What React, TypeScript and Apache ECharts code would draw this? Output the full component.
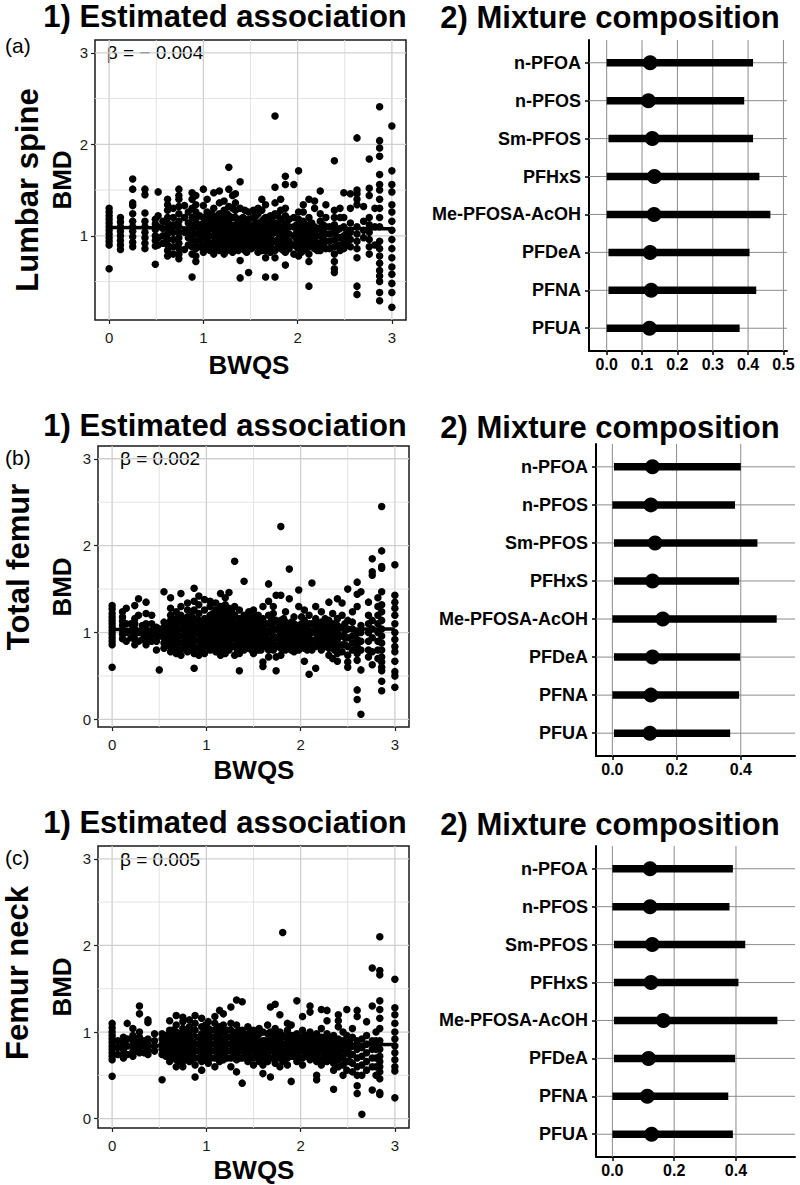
import React, { useEffect, useRef } from "react";
import * as echarts from "echarts";

const FONT = "'Liberation Sans', Arial, Helvetica, sans-serif";

// ---------- scatter data: [BWQS value, BMD values in that column] ----------
const colsA: [number, number[]][] = [
  [0.0, [0.64, 0.9, 0.94, 0.98, 1.02, 1.06, 1.1, 1.14, 1.18, 1.22, 1.26, 1.3]],
  [0.12, [0.85, 0.9, 0.95, 1.0, 1.05, 1.1, 1.15, 1.2]],
  [0.25, [0.88, 0.93, 0.99, 1.05, 1.1, 1.16, 1.24, 1.33, 1.36, 1.51, 1.62]],
  [0.38, [0.86, 0.92, 0.98, 1.04, 1.1, 1.16, 1.25, 1.45, 1.51]],
  [0.49, [0.69, 0.89, 0.95, 1.0, 1.07, 1.13, 1.18]],
  [0.52, [0.9, 0.98, 1.1, 1.22, 1.48]],
  [0.62, [0.78, 0.84, 0.9, 0.96, 1.02, 1.08, 1.14, 1.2, 1.28, 1.34, 1.4]],
  [0.74, [0.75, 0.8, 0.86, 0.92, 0.98, 1.04, 1.1, 1.16, 1.24, 1.32, 1.4, 1.44, 1.51]],
  [0.8, [0.85, 1.04, 1.2, 1.33]],
  [0.88, [0.55, 0.8, 0.88, 0.96, 1.04, 1.12, 1.2, 1.3, 1.4, 1.47]],
  [0.92, [0.72, 0.78, 0.86, 0.94, 1.02, 1.1, 1.18, 1.26, 1.34, 1.44]],
  [1.0, [0.82, 0.9, 0.98, 1.06, 1.14, 1.2, 1.33, 1.51]],
  [1.04, [0.86, 0.94, 1.02, 1.1, 1.18, 1.26, 1.4]],
  [1.11, [0.8, 0.86, 0.93, 1.0, 1.07, 1.14, 1.22, 1.3, 1.47]],
  [1.17, [0.84, 0.92, 1.0, 1.08, 1.16, 1.24, 1.36, 1.49]],
  [1.22, [0.8, 0.88, 0.96, 1.04, 1.12, 1.2, 1.28, 1.38]],
  [1.27, [0.9, 0.98, 1.06, 1.14, 1.22, 1.32, 1.51, 1.75]],
  [1.31, [0.82, 0.9, 1.0, 1.1, 1.2, 1.3, 1.44]],
  [1.34, [0.88, 0.96, 1.04, 1.12, 1.2, 1.28, 1.36, 1.46]],
  [1.39, [0.54, 0.73, 0.86, 0.94, 1.02, 1.1, 1.18, 1.3, 1.59]],
  [1.44, [0.84, 0.92, 1.0, 1.08, 1.16, 1.28]],
  [1.48, [0.6, 0.86, 0.94, 1.02, 1.1, 1.18, 1.26]],
  [1.53, [0.88, 0.96, 1.04, 1.12, 1.2, 1.28]],
  [1.58, [0.82, 0.9, 0.98, 1.06, 1.14, 1.24, 1.3]],
  [1.62, [0.84, 0.92, 1.0, 1.08, 1.16, 1.28, 1.4]],
  [1.66, [0.55, 0.76, 0.84, 0.92, 1.0, 1.08, 1.2, 1.34]],
  [1.71, [0.82, 0.9, 0.98, 1.06, 1.14, 1.22]],
  [1.76, [0.55, 0.76, 0.84, 0.94, 1.04, 1.14, 1.24, 1.36, 1.53, 2.31]],
  [1.82, [0.86, 0.94, 1.02, 1.1, 1.18, 1.28, 1.4]],
  [1.87, [0.68, 0.82, 0.9, 0.98, 1.06, 1.14, 1.22, 1.3, 1.56, 1.65]],
  [1.96, [0.8, 0.9, 1.0, 1.1, 1.2, 1.56]],
  [2.01, [0.78, 0.86, 0.94, 1.02, 1.1, 1.18, 1.26, 1.71]],
  [2.06, [0.84, 0.92, 1.0, 1.08, 1.16, 1.26, 1.34]],
  [2.12, [0.45, 0.72, 0.8, 0.88, 0.96, 1.04, 1.12, 1.2, 1.4]],
  [2.18, [0.86, 0.94, 1.02, 1.1, 1.3, 1.38]],
  [2.24, [0.84, 0.92, 1.0, 1.08, 1.16, 1.24, 1.49]],
  [2.3, [0.86, 0.94, 1.02, 1.1, 1.2, 1.34]],
  [2.39, [0.6, 0.64, 0.72, 0.8, 0.88, 0.96, 1.04, 1.12, 1.2, 1.28, 1.82]],
  [2.45, [0.84, 0.9, 0.98, 1.08, 1.2, 1.3]],
  [2.49, [0.86, 0.92, 1.0, 1.1, 1.2, 1.47]],
  [2.56, [0.88, 0.96, 1.04, 1.14, 1.3, 1.46]],
  [2.63, [0.36, 0.45, 0.76, 0.86, 0.94, 1.02, 1.1, 1.34, 1.4, 1.46, 1.5, 2.07]],
  [2.7, [0.98, 1.06, 1.16, 1.32]],
  [2.76, [0.8, 0.88, 0.96, 1.04, 1.12, 1.2, 1.44, 1.52, 1.84]],
  [2.82, [0.9, 1.1, 1.3]],
  [2.87, [0.29, 0.38, 0.5, 0.56, 0.62, 0.7, 0.78, 0.86, 0.94, 1.1, 1.2, 1.3, 1.4, 1.5, 1.56, 1.67, 1.87, 1.96, 2.04, 2.41]],
  [3.0, [0.22, 0.38, 0.48, 0.58, 0.66, 0.76, 0.86, 0.96, 1.06, 1.16, 1.26, 1.34, 1.48, 1.56, 1.71, 2.2]],
];
// additional points in the dense central band
const denseA: [number, number[]][] = [
  [0.57, [0.92, 1.0, 1.08, 1.16]],
  [0.68, [0.8, 0.88, 0.96, 1.04, 1.12, 1.2, 1.3]],
  [0.84, [0.9, 0.98, 1.06, 1.14, 1.26]],
  [0.96, [0.88, 0.96, 1.04, 1.12, 1.22]],
  [1.07, [0.84, 0.92, 1.0, 1.08, 1.16, 1.24]],
  [1.14, [0.9, 0.98, 1.06, 1.12, 1.2]],
  [1.19, [0.86, 0.94, 1.02, 1.1, 1.18]],
  [1.25, [0.84, 0.92, 1.0, 1.08, 1.16, 1.24]],
  [1.29, [0.88, 0.96, 1.04, 1.12]],
  [1.37, [0.84, 0.92, 1.0, 1.08, 1.16]],
  [1.42, [0.88, 0.96, 1.04, 1.12, 1.2]],
  [1.46, [0.82, 0.9, 0.98, 1.06, 1.14]],
  [1.51, [0.86, 0.94, 1.02, 1.1]],
  [1.56, [0.9, 0.98, 1.06, 1.14, 1.22]],
  [1.6, [0.88, 0.96, 1.04, 1.12]],
  [1.64, [0.86, 0.94, 1.02, 1.1, 1.18]],
  [1.69, [0.9, 0.98, 1.06, 1.14]],
  [1.73, [0.86, 0.94, 1.02, 1.1, 1.2]],
  [1.79, [0.88, 0.96, 1.04, 1.12, 1.22]],
  [1.85, [0.84, 0.92, 1.0, 1.08]],
  [1.91, [0.86, 0.94, 1.02, 1.1, 1.18]],
  [1.99, [0.88, 0.96, 1.04, 1.12]],
  [2.04, [0.82, 0.9, 0.98, 1.06, 1.14]],
  [2.09, [0.86, 0.94, 1.02, 1.1]],
  [2.15, [0.9, 0.98, 1.06, 1.14]],
  [2.21, [0.84, 0.92, 1.0, 1.08]],
  [2.27, [0.88, 0.96, 1.04, 1.12]],
  [2.34, [0.86, 0.94, 1.02, 1.1]],
  [2.42, [0.9, 0.98, 1.06]],
  [2.52, [0.9, 0.98, 1.06]],
];

const colsB: [number, number[]][] = [
  [0.0, [0.6, 0.86, 0.9, 0.94, 0.98, 1.02, 1.06, 1.1, 1.14, 1.18, 1.22, 1.27, 1.31]],
  [0.11, [0.93, 0.98, 1.03, 1.08, 1.13, 1.18, 1.24]],
  [0.15, [0.9, 1.0, 1.1, 1.28]],
  [0.24, [0.86, 0.92, 0.98, 1.04, 1.1, 1.16, 1.31]],
  [0.28, [0.9, 1.0, 1.2, 1.39]],
  [0.36, [0.86, 0.92, 0.98, 1.04, 1.1, 1.22, 1.35]],
  [0.42, [0.9, 0.96, 1.02, 1.1, 1.2]],
  [0.47, [0.8, 0.9, 0.98, 1.06]],
  [0.5, [0.57, 0.96, 1.04]],
  [0.55, [0.82, 0.88, 0.94, 1.0, 1.06, 1.12, 1.47]],
  [0.62, [0.78, 0.84, 0.9, 0.96, 1.02, 1.08, 1.14, 1.2, 1.28, 1.4]],
  [0.68, [0.76, 0.84, 0.92, 1.0, 1.08, 1.16, 1.24]],
  [0.73, [0.74, 0.8, 0.88, 0.96, 1.04, 1.12, 1.2, 1.3, 1.45]],
  [0.8, [0.78, 0.86, 0.94, 1.02, 1.1, 1.18, 1.26, 1.34]],
  [0.87, [0.59, 0.76, 0.84, 0.92, 1.0, 1.08, 1.16, 1.26, 1.36, 1.51]],
  [0.92, [0.74, 0.82, 0.9, 0.98, 1.06, 1.14, 1.22, 1.32, 1.42]],
  [0.98, [0.76, 0.84, 0.92, 1.0, 1.08, 1.16, 1.26, 1.38]],
  [1.04, [0.8, 0.88, 0.96, 1.04, 1.12, 1.2, 1.3, 1.36]],
  [1.1, [0.78, 0.86, 0.94, 1.02, 1.1, 1.18, 1.26, 1.34]],
  [1.15, [0.74, 0.82, 0.9, 0.98, 1.06, 1.14, 1.22, 1.3, 1.45]],
  [1.2, [0.76, 0.84, 0.92, 1.0, 1.08, 1.16, 1.24, 1.32, 1.4]],
  [1.24, [0.8, 0.88, 0.96, 1.04, 1.12, 1.2, 1.28, 1.46]],
  [1.3, [0.74, 0.84, 0.94, 1.02, 1.1, 1.2, 1.3, 1.82]],
  [1.35, [0.56, 0.76, 0.86, 0.96, 1.06, 1.16, 1.26]],
  [1.4, [0.8, 0.9, 1.0, 1.1, 1.2, 1.59]],
  [1.45, [0.82, 0.9, 0.98, 1.06, 1.14, 1.24]],
  [1.5, [0.76, 0.84, 0.92, 1.0, 1.08, 1.18, 1.26]],
  [1.55, [0.8, 0.88, 0.96, 1.04, 1.12, 1.2]],
  [1.6, [0.61, 0.66, 0.84, 0.92, 1.0, 1.08, 1.16, 1.3]],
  [1.66, [0.72, 0.8, 0.9, 1.0, 1.1, 1.2, 1.36, 1.56]],
  [1.71, [0.8, 0.88, 0.96, 1.04, 1.12, 1.22, 1.3]],
  [1.74, [0.56, 0.72, 0.84, 0.94, 1.04, 1.14, 1.43]],
  [1.79, [0.74, 0.82, 0.9, 0.98, 1.06, 1.14, 1.43, 2.22]],
  [1.84, [0.8, 0.88, 0.96, 1.04, 1.12, 1.24]],
  [1.88, [0.84, 0.92, 1.0, 1.08, 1.39, 1.73]],
  [1.93, [0.78, 0.86, 0.94, 1.02, 1.1, 1.18]],
  [1.98, [0.8, 0.88, 0.96, 1.04, 1.3, 1.49]],
  [2.04, [0.67, 0.82, 0.9, 0.98, 1.06, 1.14, 1.26]],
  [2.09, [0.52, 0.86, 0.94, 1.02, 1.1, 1.2]],
  [2.12, [0.8, 0.9, 1.0, 1.1, 1.57]],
  [2.16, [0.59, 0.84, 0.92, 1.0, 1.08, 1.16, 1.3]],
  [2.22, [0.8, 0.88, 0.96, 1.04, 1.12, 1.24]],
  [2.3, [0.74, 0.82, 0.9, 0.98, 1.06, 1.14, 1.35]],
  [2.34, [0.7, 0.86, 0.94, 1.02, 1.1, 1.22]],
  [2.39, [0.67, 0.76, 0.84, 0.92, 1.0, 1.08, 1.16, 1.39]],
  [2.44, [0.78, 0.86, 0.96, 1.06, 1.2, 1.34]],
  [2.5, [0.6, 0.66, 0.74, 0.84, 0.94, 1.04, 1.14, 1.5]],
  [2.55, [0.8, 0.88, 0.96, 1.04, 1.12, 1.24]],
  [2.6, [0.23, 0.34, 0.68, 0.76, 0.84, 0.92, 1.0, 1.3, 1.44, 1.58]],
  [2.64, [0.06, 0.57, 0.8, 0.9, 1.0, 1.08, 1.47]],
  [2.72, [0.72, 0.8, 0.9, 1.0, 1.1, 1.2, 1.35]],
  [2.76, [0.63, 0.78, 0.94, 1.04, 1.14, 1.66, 1.7, 1.85]],
  [2.82, [0.7, 0.8, 0.9, 1.0, 1.1, 1.2, 1.3, 1.4]],
  [2.86, [0.33, 0.44, 0.56, 0.6, 0.66, 0.72, 0.8, 0.88, 0.96, 1.04, 1.14, 1.24, 1.32, 1.47, 1.74, 1.76, 1.94, 2.45]],
  [3.0, [0.37, 0.5, 0.55, 0.67, 0.78, 0.84, 0.92, 1.0, 1.1, 1.2, 1.28, 1.35, 1.43, 1.78]],
];
const denseB: [number, number[]][] = [
  [0.2, [0.94, 1.02, 1.1]],
  [0.32, [0.92, 1.0, 1.08]],
  [0.58, [0.86, 0.94, 1.02, 1.1]],
  [0.65, [0.8, 0.88, 0.96, 1.04, 1.12]],
  [0.77, [0.82, 0.9, 0.98, 1.06, 1.14]],
  [0.84, [0.8, 0.88, 0.96, 1.04, 1.12, 1.2]],
  [0.95, [0.8, 0.88, 0.96, 1.04, 1.12]],
  [1.01, [0.84, 0.92, 1.0, 1.08, 1.16]],
  [1.07, [0.82, 0.9, 0.98, 1.06, 1.14, 1.22]],
  [1.13, [0.86, 0.94, 1.02, 1.1, 1.18]],
  [1.18, [0.8, 0.88, 0.96, 1.04, 1.12, 1.2, 1.28]],
  [1.27, [0.84, 0.92, 1.0, 1.08, 1.16, 1.24]],
  [1.33, [0.8, 0.88, 0.96, 1.04, 1.12]],
  [1.38, [0.84, 0.92, 1.0, 1.08, 1.16]],
  [1.43, [0.86, 0.94, 1.02, 1.1, 1.18]],
  [1.48, [0.8, 0.88, 0.96, 1.04, 1.12]],
  [1.53, [0.84, 0.92, 1.0, 1.08, 1.16]],
  [1.58, [0.8, 0.88, 0.96, 1.04, 1.12]],
  [1.63, [0.86, 0.94, 1.02, 1.1]],
  [1.69, [0.84, 0.92, 1.0, 1.08, 1.16]],
  [1.77, [0.86, 0.94, 1.02, 1.1]],
  [1.82, [0.84, 0.92, 1.0, 1.08, 1.16]],
  [1.9, [0.8, 0.88, 0.96, 1.04, 1.12]],
  [1.96, [0.84, 0.92, 1.0, 1.08]],
  [2.01, [0.86, 0.94, 1.02, 1.1, 1.18]],
  [2.07, [0.8, 0.88, 0.96, 1.04]],
  [2.19, [0.86, 0.94, 1.02, 1.1]],
  [2.26, [0.84, 0.92, 1.0, 1.08, 1.16]],
  [2.36, [0.8, 0.88, 0.96, 1.04]],
  [2.47, [0.86, 0.94, 1.02, 1.1]],
];

const colsC: [number, number[]][] = [
  [0.0, [0.49, 0.68, 0.72, 0.76, 0.8, 0.84, 0.88, 0.92, 0.96, 1.0, 1.05, 1.1]],
  [0.12, [0.7, 0.75, 0.8, 0.85, 0.9, 0.94]],
  [0.16, [0.74, 0.84, 0.92, 1.1]],
  [0.22, [0.72, 0.78, 0.84, 0.9, 0.96, 1.04]],
  [0.29, [0.76, 0.82, 0.88, 0.94, 1.0, 1.21, 1.3]],
  [0.38, [0.74, 0.8, 0.86, 0.92, 1.11, 1.14]],
  [0.45, [0.78, 0.84, 0.9, 0.98]],
  [0.53, [0.45, 0.74, 0.8, 0.86, 0.92, 0.98]],
  [0.61, [0.66, 0.72, 0.78, 0.84, 0.9, 0.96, 1.02, 1.13]],
  [0.68, [0.6, 0.68, 0.76, 0.84, 0.92, 1.0, 1.08, 1.19]],
  [0.75, [0.6, 0.66, 0.72, 0.8, 0.88, 0.96, 1.04, 1.12, 1.17]],
  [0.82, [0.66, 0.74, 0.82, 0.9, 0.98, 1.06, 1.14]],
  [0.88, [0.48, 0.62, 0.7, 0.78, 0.86, 0.94, 1.02, 1.1, 1.19]],
  [0.95, [0.56, 0.66, 0.74, 0.82, 0.9, 0.98, 1.06, 1.16]],
  [1.02, [0.64, 0.72, 0.8, 0.88, 0.96, 1.04, 1.12]],
  [1.09, [0.6, 0.7, 0.78, 0.86, 0.94, 1.02, 1.1, 1.18]],
  [1.14, [0.66, 0.74, 0.82, 0.9, 0.98, 1.06, 1.25]],
  [1.18, [0.68, 0.76, 0.84, 0.92, 1.0, 1.08, 1.21]],
  [1.26, [0.6, 0.7, 0.78, 0.86, 0.94, 1.02, 1.1, 1.29]],
  [1.32, [0.54, 0.68, 0.76, 0.84, 0.92, 1.0, 1.08, 1.37]],
  [1.38, [0.41, 0.7, 0.78, 0.86, 0.94, 1.02, 1.35]],
  [1.44, [0.66, 0.74, 0.82, 0.9, 0.98, 1.06]],
  [1.5, [0.62, 0.7, 0.78, 0.86, 0.94, 1.02]],
  [1.56, [0.66, 0.74, 0.82, 0.9, 0.98, 1.04]],
  [1.6, [0.52, 0.62, 0.7, 0.8, 0.9, 1.0]],
  [1.65, [0.66, 0.74, 0.82, 0.9, 0.98, 1.08]],
  [1.68, [0.48, 0.7, 0.8, 0.9, 1.0, 1.29]],
  [1.73, [0.64, 0.72, 0.8, 0.88, 0.96, 1.04, 1.32]],
  [1.78, [0.6, 0.7, 0.8, 0.9, 1.0, 1.2]],
  [1.81, [0.66, 0.76, 0.86, 0.96, 2.15]],
  [1.86, [0.62, 0.7, 0.78, 0.86, 0.94, 1.02, 1.1]],
  [1.9, [0.43, 0.72, 0.8, 0.88, 0.96, 1.08]],
  [1.96, [0.66, 0.74, 0.82, 0.9, 0.98, 1.36]],
  [2.02, [0.62, 0.7, 0.78, 0.86, 0.94, 1.02, 1.18]],
  [2.1, [0.68, 0.76, 0.84, 0.92, 1.0, 1.23, 1.3]],
  [2.17, [0.45, 0.5, 0.66, 0.74, 0.82, 0.9, 0.98]],
  [2.22, [0.62, 0.7, 0.78, 0.86, 0.94, 1.04, 1.26]],
  [2.28, [0.66, 0.74, 0.82, 0.9, 0.98, 1.13, 1.25]],
  [2.35, [0.34, 0.56, 0.64, 0.72, 0.8, 0.88, 0.96]],
  [2.4, [0.6, 0.68, 0.76, 0.84, 0.92, 1.06, 1.13, 1.2]],
  [2.45, [0.5, 0.62, 0.7, 0.8, 0.9, 1.0]],
  [2.49, [0.56, 0.66, 0.76, 0.86, 0.96, 1.26]],
  [2.55, [0.54, 0.64, 0.74, 0.84, 0.94, 1.04]],
  [2.6, [0.29, 0.38, 0.5, 0.6, 0.7, 0.8, 0.9, 1.18, 1.25]],
  [2.65, [0.05, 0.5, 0.62, 0.72, 0.82, 0.92]],
  [2.7, [0.56, 0.66, 0.76, 0.86, 0.96, 1.12]],
  [2.76, [0.33, 0.6, 0.7, 0.8, 0.9, 1.3, 1.74]],
  [2.8, [0.5, 0.6, 0.7, 0.8, 0.9, 1.0]],
  [2.84, [0.28, 0.3, 0.46, 0.54, 0.6, 0.66, 0.72, 0.8, 0.9, 1.04, 1.16, 1.26, 1.36, 1.66, 1.71, 2.1]],
  [3.0, [0.24, 0.55, 0.6, 0.68, 0.76, 0.84, 0.92, 1.0, 1.1, 1.2, 1.28, 1.61]],
];
const denseC: [number, number[]][] = [
  [0.06, [0.74, 0.82, 0.9]],
  [0.26, [0.78, 0.86, 0.92]],
  [0.34, [0.76, 0.84, 0.9]],
  [0.57, [0.72, 0.8, 0.88, 0.96]],
  [0.64, [0.7, 0.78, 0.86, 0.94, 1.02]],
  [0.71, [0.66, 0.74, 0.82, 0.9, 0.98]],
  [0.79, [0.7, 0.78, 0.86, 0.94, 1.02]],
  [0.85, [0.68, 0.76, 0.84, 0.92, 1.0]],
  [0.92, [0.7, 0.78, 0.86, 0.94]],
  [0.99, [0.68, 0.76, 0.84, 0.92, 1.0, 1.08]],
  [1.05, [0.7, 0.78, 0.86, 0.94, 1.02]],
  [1.12, [0.72, 0.8, 0.88, 0.96]],
  [1.22, [0.7, 0.78, 0.86, 0.94, 1.02]],
  [1.29, [0.72, 0.8, 0.88, 0.96]],
  [1.35, [0.7, 0.78, 0.86, 0.94, 1.02]],
  [1.41, [0.72, 0.8, 0.88, 0.96]],
  [1.47, [0.7, 0.78, 0.86, 0.94, 1.02]],
  [1.53, [0.72, 0.8, 0.88, 0.96]],
  [1.62, [0.74, 0.82, 0.9]],
  [1.71, [0.7, 0.78, 0.86, 0.94]],
  [1.76, [0.72, 0.8, 0.88, 0.96]],
  [1.84, [0.7, 0.78, 0.86, 0.94]],
  [1.93, [0.72, 0.8, 0.88, 0.96]],
  [1.99, [0.7, 0.78, 0.86, 0.94]],
  [2.06, [0.72, 0.8, 0.88, 0.96]],
  [2.14, [0.7, 0.78, 0.86, 0.94]],
  [2.25, [0.68, 0.76, 0.84, 0.92]],
  [2.32, [0.7, 0.78, 0.86, 0.94]],
  [2.43, [0.72, 0.8, 0.88]],
  [2.52, [0.66, 0.74, 0.82, 0.9]],
];

// fitted lines (BWQS, BMD)
const fitA: [number, number][] = [[0, 1.09], [3, 1.078]];
const fitB: [number, number][] = [[0, 1.035], [3, 1.041]];
const fitC: [number, number][] = [[0, 0.84], [3, 0.855]];

const betaLabels = ["β = − 0.004", "β = 0.002", "β = 0.005"];
const rowLabels = ["Lumbar spine", "Total femur", "Femur neck"];
const panelLetters = ["(a)", "(b)", "(c)"];

// axis ticks
const bwqsTicks = [0, 1, 2, 3];
const bwqsMinor = [0.5, 1.5, 2.5];
const bmdTicksA = [1, 2, 3];
const bmdTicksBC = [0, 1, 2, 3];
const bmdMinor = [0.5, 1.5, 2.5];
const weightTicksA = [0, 0.1, 0.2, 0.3, 0.4, 0.5];
const weightTicksBC = [0, 0.2, 0.4];

// ---------- mixture composition ----------
const components = ["n-PFOA", "n-PFOS", "Sm-PFOS", "PFHxS", "Me-PFOSA-AcOH", "PFDeA", "PFNA", "PFUA"];
const medA = [0.123, 0.118, 0.129, 0.135, 0.134, 0.123, 0.126, 0.121];
const lowA = [0, 0, 0.005, 0, 0, 0.005, 0.005, 0];
const highA = [0.414, 0.389, 0.414, 0.432, 0.463, 0.404, 0.423, 0.376];
const medB = [0.125, 0.12, 0.133, 0.125, 0.157, 0.125, 0.12, 0.117];
const lowB = [0.005, 0, 0.005, 0.005, 0, 0.005, 0, 0.005];
const highB = [0.4, 0.382, 0.452, 0.395, 0.512, 0.398, 0.395, 0.367];
const medC = [0.122, 0.122, 0.129, 0.125, 0.165, 0.117, 0.113, 0.127];
const lowC = [0, 0, 0.005, 0.005, 0.005, 0.005, 0, 0];
const highC = [0.39, 0.379, 0.43, 0.408, 0.534, 0.397, 0.375, 0.39];

const leftLayout = [
  { left: 95, top: 40, width: 311, height: 280, ymin: 0.08, ymax: 3.14 },
  { left: 98, top: 446, width: 311, height: 281, ymin: -0.087, ymax: 3.147 },
  { left: 98, top: 846, width: 311, height: 282, ymin: -0.108, ymax: 3.148 },
];
const rightLayout = [
  { left: 589, top: 40, width: 198, height: 311, xmin: -0.05, xmax: 0.51 },
  { left: 596, top: 444, width: 199, height: 312, xmin: -0.051, xmax: 0.569 },
  { left: 596, top: 846, width: 199, height: 311, xmin: -0.053, xmax: 0.591 },
];

function gridLines(vx: number[], vxMinor: number[], vy: number[], vyMinor: number[]) {
  const d: number[][] = [];
  vx.forEach((v) => d.push([v, 0, 0]));
  vxMinor.forEach((v) => d.push([v, 0, 1]));
  vy.forEach((v) => d.push([v, 1, 0]));
  vyMinor.forEach((v) => d.push([v, 1, 1]));
  return d;
}

function gridSeries(idx: number, data: number[][], xRef: number, yRef: number, major: any, minor: any) {
  return {
    type: "custom",
    xAxisIndex: idx,
    yAxisIndex: idx,
    z: 1,
    silent: true,
    data,
    renderItem: (params: any, api: any) => {
      const cs = params.coordSys;
      const v = api.value(0);
      const dir = api.value(1);
      const style = api.value(2) ? minor : major;
      if (dir === 0) {
        const px = api.coord([v, yRef])[0];
        return { type: "line", shape: { x1: px, y1: cs.y, x2: px, y2: cs.y + cs.height }, style };
      }
      const py = api.coord([xRef, v])[1];
      return { type: "line", shape: { x1: cs.x, y1: py, x2: cs.x + cs.width, y2: py }, style };
    },
  };
}

export default function App() {
  const ref = useRef<HTMLDivElement>(null);
  useEffect(() => {
    if (!ref.current) return;
    const chart = echarts.init(ref.current, null, { renderer: "svg" });

    const grids: any[] = [];
    const xAxes: any[] = [];
    const yAxes: any[] = [];
    const series: any[] = [];
    const graphics: any[] = [];

    const cols = [colsA.concat(denseA), colsB.concat(denseB), colsC.concat(denseC)];
    const fits = [fitA, fitB, fitC];
    const bmdTicks = [bmdTicksA, bmdTicksBC, bmdTicksBC];
    const leftMajor = { stroke: "#cfcfcf", lineWidth: 1.3 };
    const leftMinor = { stroke: "#e0e0e0", lineWidth: 0.9 };

    leftLayout.forEach((L, i) => {
      grids.push({
        left: L.left, top: L.top, width: L.width, height: L.height,
        show: true, borderColor: "#1a1a1a", borderWidth: 1.5, backgroundColor: "transparent",
        containLabel: false, outerBoundsMode: "none",
      });
      xAxes.push({
        gridIndex: i, type: "value", min: -0.15, max: 3.15,
        axisLine: { show: false, onZero: false },
        axisTick: { show: true, length: 4, lineStyle: { color: "#222", width: 1.2 }, customValues: bwqsTicks },
        axisLabel: { customValues: bwqsTicks, color: "#1a1a1a", fontSize: 15, fontFamily: FONT, margin: 10 },
        splitLine: { show: false },
      });
      yAxes.push({
        gridIndex: i, type: "value", min: L.ymin, max: L.ymax,
        axisLine: { show: false, onZero: false },
        axisTick: { show: true, length: 4, lineStyle: { color: "#222", width: 1.2 }, customValues: bmdTicks[i] },
        axisLabel: { customValues: bmdTicks[i], color: "#1a1a1a", fontSize: 15, fontFamily: FONT, margin: 7 },
        splitLine: { show: false },
      });
      series.push(gridSeries(i, gridLines(bwqsTicks, bwqsMinor, bmdTicks[i], bmdMinor), 1.5, 1.5, leftMajor, leftMinor));
      series.push({
        type: "scatter", xAxisIndex: i, yAxisIndex: i, z: 3, silent: true,
        symbol: "circle", symbolSize: 7.5, itemStyle: { color: "#000", opacity: 1 },
        data: cols[i].flatMap(([x, ys]) => ys.map((y) => [x, y])),
      });
      series.push({
        type: "line", xAxisIndex: i, yAxisIndex: i, z: 4, silent: true,
        showSymbol: false, symbol: "none", lineStyle: { color: "#000", width: 3.5, opacity: 1 },
        data: fits[i],
      });
    });

    const meds = [medA, medB, medC];
    const lows = [lowA, lowB, lowC];
    const highs = [highA, highB, highC];
    const wTicks = [weightTicksA, weightTicksBC, weightTicksBC];
    const idxs = components.map((_, k) => k);
    const rightStyle = { stroke: "#8c8c8c", lineWidth: 1 };

    rightLayout.forEach((R, j) => {
      const i = 3 + j;
      grids.push({ left: R.left, top: R.top, width: R.width, height: R.height, containLabel: false, outerBoundsMode: "none" });
      xAxes.push({
        gridIndex: i, type: "value", min: R.xmin, max: R.xmax,
        axisLine: { show: true, onZero: false, lineStyle: { color: "#000", width: 2 } },
        axisTick: { show: true, length: 4, lineStyle: { color: "#000", width: 1.5 }, customValues: wTicks[j] },
        axisLabel: {
          customValues: wTicks[j], color: "#000", fontSize: 16, fontWeight: "bold", fontFamily: FONT, margin: 5,
          formatter: (v: number) => Number(v).toFixed(1),
        },
        splitLine: { show: false },
      });
      yAxes.push({
        gridIndex: i, type: "value", min: -0.6, max: 7.6, inverse: true,
        axisLine: { show: true, onZero: false, lineStyle: { color: "#000", width: 2 } },
        axisTick: { show: true, length: 4, lineStyle: { color: "#000", width: 1.5 }, customValues: idxs },
        axisLabel: {
          customValues: idxs, color: "#000", fontSize: 18, fontWeight: "bold", fontFamily: FONT, margin: 8,
          formatter: (v: number) => components[Math.round(Number(v))] ?? "",
        },
        splitLine: { show: false },
      });
      series.push(gridSeries(i, gridLines(wTicks[j], [], idxs, []), 0.2, 3.5, rightStyle, rightStyle));
      series.push({
        type: "custom", xAxisIndex: i, yAxisIndex: i, z: 2, silent: true,
        encode: { x: [0, 1], y: 2 },
        data: idxs.map((k) => [lows[j][k], highs[j][k], k]),
        renderItem: (params: any, api: any) => {
          const a = api.coord([api.value(0), api.value(2)]);
          const b = api.coord([api.value(1), api.value(2)]);
          return {
            type: "line",
            shape: { x1: a[0], y1: a[1], x2: b[0], y2: b[1] },
            style: { stroke: "#000", lineWidth: 7.5, lineCap: "butt" },
          };
        },
      });
      series.push({
        type: "scatter", xAxisIndex: i, yAxisIndex: i, z: 3, silent: true,
        symbol: "circle", symbolSize: 15, itemStyle: { color: "#000", opacity: 1 },
        data: idxs.map((k) => [meds[j][k], k]),
      });
    });

    const txt = (text: string, x: number, y: number, size: number, bold: boolean, extra: any = {}) => ({
      type: "text", x, y, silent: true, ...extra,
      style: {
        text, fill: "#000", fontSize: size, fontWeight: bold ? "bold" : "normal", fontFamily: FONT,
        textAlign: extra.align || "center", textVerticalAlign: "middle",
      },
    });

    const title1Y = [16, 425, 822];
    const title2Y = [17, 427, 824];
    const letterY = [45, 457, 857];
    const rowPos = [[27, 190], [18, 567], [17, 973]];
    const bmdY = [180, 587, 987];
    const bwqsPos = [[249, 365], [254, 770], [254, 1170]];
    const betaPos = [[155, 52], [160, 458], [160, 859]];

    for (let k = 0; k < 3; k++) {
      graphics.push(txt("1) Estimated association", 225, title1Y[k], 31, true));
      graphics.push(txt("2) Mixture composition", 610, title2Y[k], 31, true));
      graphics.push(txt(panelLetters[k], 5, letterY[k], 21, false, { align: "left" }));
      graphics.push(txt(rowLabels[k], rowPos[k][0], rowPos[k][1], 31, true, { rotation: Math.PI / 2 }));
      graphics.push(txt("BMD", 62, bmdY[k], 26, true, { rotation: Math.PI / 2 }));
      graphics.push(txt("BWQS", bwqsPos[k][0], bwqsPos[k][1], 26, true));
      graphics.push(txt(betaLabels[k], betaPos[k][0], betaPos[k][1], 19, false));
    }

    chart.setOption({
      animation: false,
      backgroundColor: "#fff",
      grid: grids,
      xAxis: xAxes,
      yAxis: yAxes,
      series,
      graphic: { elements: graphics },
    });
    return () => chart.dispose();
  }, []);
  return <div ref={ref} style={{ position: "absolute", left: 0, top: 0, width: 800, height: 1185 }} />;
}
